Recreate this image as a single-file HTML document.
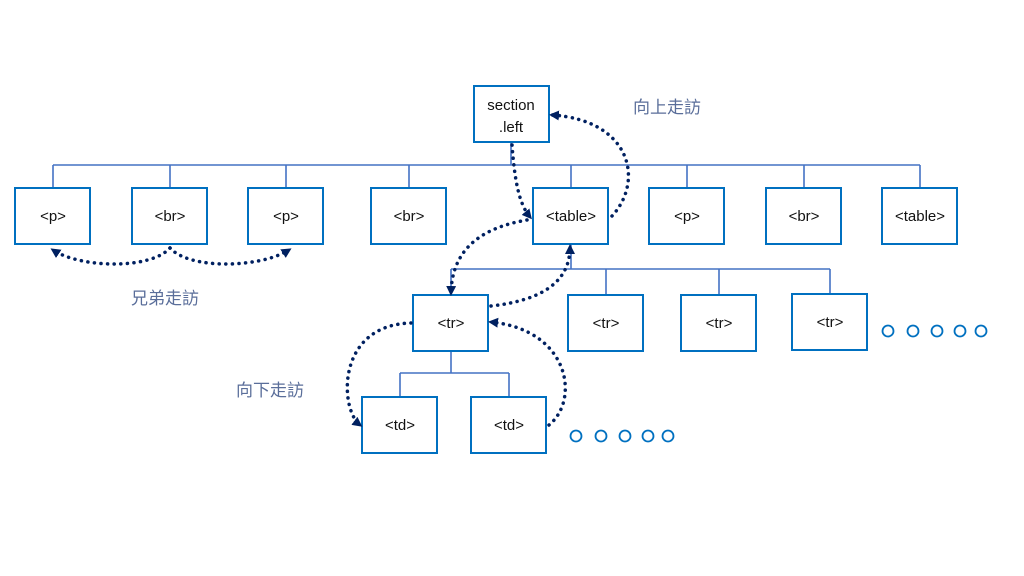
<!DOCTYPE html>
<html><head><meta charset="utf-8"><style>
body{margin:0;background:#fff;}
svg{display:block}
.b{fill:#fff;stroke:#0070c0;stroke-width:2}
.t{font-family:"Liberation Sans","DejaVu Sans",sans-serif;font-size:15px;fill:#111;text-anchor:middle}
.l{font-family:"Liberation Sans","Noto Sans CJK TC",sans-serif;font-size:17px;fill:#5a6e9a}
.c{stroke:#4472c4;stroke-width:1.6;fill:none}
.d{stroke:#002060;stroke-width:3.5;fill:none;stroke-dasharray:0.1 6.5;stroke-linecap:round}
.o{fill:none;stroke:#0070c0;stroke-width:1.8}
</style></head><body>
<svg width="1024" height="576" viewBox="0 0 1024 576">
<defs><marker id="a" markerWidth="10" markerHeight="10" refX="7" refY="5" orient="auto" markerUnits="userSpaceOnUse"><path d="M0,0 L10,5 L0,10z" fill="#002060"/></marker></defs>
<path class="c" d="M511 142V165M53 165H920M53 165V188M170 165V188M286 165V188M409 165V188M571 165V188M687 165V188M804 165V188M920 165V188"/>
<path class="c" d="M571 244V269M451 269H830M451 269V295M606 269V295M719 269V295M830 269V294"/>
<path class="c" d="M451 351V373M400 373H509M400 373V397M509 373V397"/>
<rect class="b" x="474" y="86" width="75" height="56"/>
<text class="t" x="511" y="110">section</text><text class="t" x="511" y="132">.left</text>
<g>
<rect class="b" x="15" y="188" width="75" height="56"/><text class="t" x="53" y="221">&lt;p&gt;</text>
<rect class="b" x="132" y="188" width="75" height="56"/><text class="t" x="170" y="221">&lt;br&gt;</text>
<rect class="b" x="248" y="188" width="75" height="56"/><text class="t" x="286" y="221">&lt;p&gt;</text>
<rect class="b" x="371" y="188" width="75" height="56"/><text class="t" x="409" y="221">&lt;br&gt;</text>
<rect class="b" x="533" y="188" width="75" height="56"/><text class="t" x="571" y="221">&lt;table&gt;</text>
<rect class="b" x="649" y="188" width="75" height="56"/><text class="t" x="687" y="221">&lt;p&gt;</text>
<rect class="b" x="766" y="188" width="75" height="56"/><text class="t" x="804" y="221">&lt;br&gt;</text>
<rect class="b" x="882" y="188" width="75" height="56"/><text class="t" x="920" y="221">&lt;table&gt;</text>
<rect class="b" x="413" y="295" width="75" height="56"/><text class="t" x="451" y="328">&lt;tr&gt;</text>
<rect class="b" x="568" y="295" width="75" height="56"/><text class="t" x="606" y="328">&lt;tr&gt;</text>
<rect class="b" x="681" y="295" width="75" height="56"/><text class="t" x="719" y="328">&lt;tr&gt;</text>
<rect class="b" x="792" y="294" width="75" height="56"/><text class="t" x="830" y="327">&lt;tr&gt;</text>
<rect class="b" x="362" y="397" width="75" height="56"/><text class="t" x="400" y="430">&lt;td&gt;</text>
<rect class="b" x="471" y="397" width="75" height="56"/><text class="t" x="509" y="430">&lt;td&gt;</text>
</g>
<g class="o"><circle cx="888" cy="331" r="5.5"/><circle cx="913" cy="331" r="5.5"/><circle cx="937" cy="331" r="5.5"/><circle cx="960" cy="331" r="5.5"/><circle cx="981" cy="331" r="5.5"/>
<circle cx="576" cy="436" r="5.5"/><circle cx="601" cy="436" r="5.5"/><circle cx="625" cy="436" r="5.5"/><circle cx="648" cy="436" r="5.5"/><circle cx="668" cy="436" r="5.5"/></g>
<text class="l" x="633" y="113">向上走訪</text>
<text class="l" x="131" y="304">兄弟走訪</text>
<text class="l" x="236" y="396">向下走訪</text>
<path class="d" marker-end="url(#a)" d="M512 145 C515 185 520 205 530 217"/>
<path class="d" marker-end="url(#a)" d="M612 216 C645 180 630 120 552 115"/>
<path class="d" marker-end="url(#a)" d="M527 220 C480 228 452 250 451 293"/>
<path class="d" marker-end="url(#a)" d="M491 306 C545 300 570 280 570 247"/>
<path class="d" marker-end="url(#a)" d="M411 323 C335 325 340 410 360 425"/>
<path class="d" marker-end="url(#a)" d="M549 425 C580 400 570 330 491 322"/>
<path class="d" marker-end="url(#a)" d="M170 248 C150 270 80 268 53 250"/>
<path class="d" marker-end="url(#a)" d="M170 248 C190 270 260 268 289 250"/>
</svg>
</body></html>
